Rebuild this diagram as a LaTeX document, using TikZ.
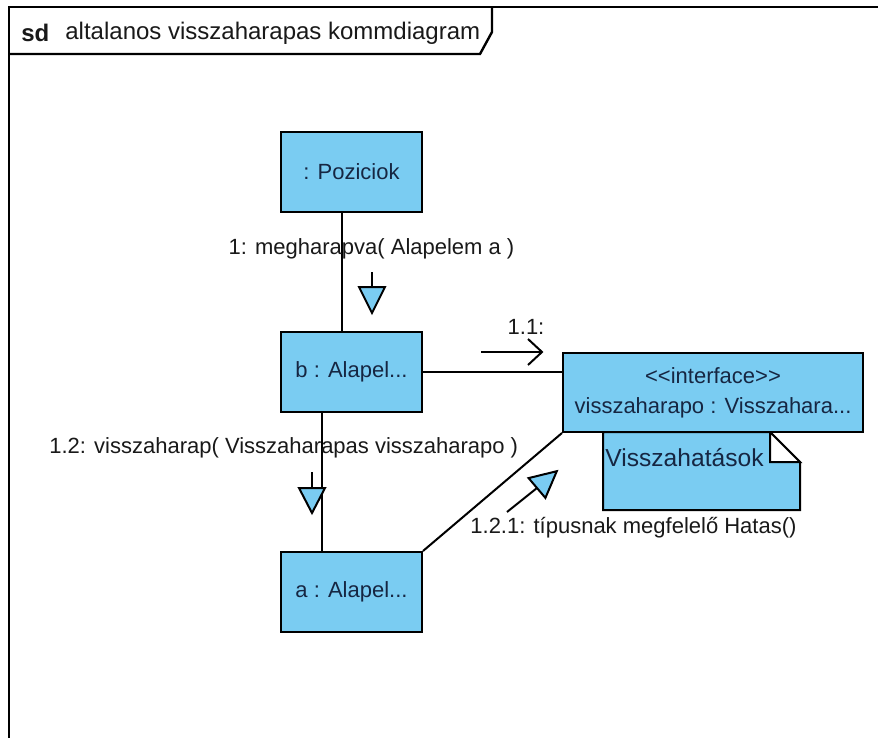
\documentclass[tikz,border=0pt]{standalone}
\usepackage{fontspec}
% plain family, no TeX ligature mapping, so << and >> stay as typed
\newfontfamily\umlfont{Liberation Sans}
\definecolor{umlblue}{RGB}{122,204,242}
\definecolor{boxtext}{RGB}{22,38,66}
\definecolor{labeltext}{RGB}{25,25,25}
\tikzset{
  objbox/.style={draw=black, line width=1pt, fill=umlblue, rectangle,
    minimum width=70.5pt, minimum height=40pt, inner sep=0pt,
    font=\umlfont\fontsize{11}{13}\selectfont, text=boxtext},
  msglabel/.style={inner sep=0pt, font=\umlfont\fontsize{11}{13}\selectfont, text=labeltext},
  link/.style={line width=1pt, draw=black},
  msgtip/.style={line width=1pt, draw=black, fill=umlblue, line join=miter},
  frameline/.style={line width=1.2pt, draw=black}
}
\begin{document}
\begin{tikzpicture}[x=0.5pt,y=-0.5pt]
\useasboundingbox (0,0) rectangle (878,738);
\fill[white] (0,0) rectangle (878,738);

% diagram frame and its name tab
\draw[frameline] (9,738) -- (9,7) -- (878,7);
\draw[frameline] (9,54) -- (480,54) -- (492,32) -- (492,7);
\node[msglabel, anchor=west, font=\umlfont\bfseries\fontsize{12}{14}\selectfont] (sd) at (21,33) {sd};
\node[msglabel, anchor=west, font=\umlfont\fontsize{12}{14}\selectfont] (title) at (65,33) {altalanos visszaharapas kommdiagram};

% note attached below the interface
\draw[line width=1pt, fill=umlblue, line join=miter] (603,432) -- (770,432) -- (800,462) -- (800,510) -- (603,510) -- cycle;
\draw[line width=1pt, fill=white, line join=miter] (770,432) -- (770,462) -- (800,462) -- cycle;
\node[msglabel, anchor=west, text=boxtext, font=\umlfont\fontsize{12.3}{14}\selectfont] (note) at (605,458) {Visszahatások};

% objects
\node[objbox] (poz) at (351.5,172) {: Poziciok};
\node[objbox] (b) at (351.5,372) {b : Alapel...};
\node[objbox] (a) at (351.5,592) {a : Alapel...};
\node[objbox, minimum width=150pt, minimum height=39.5pt, align=center] (iface) at (713,392.5)
  {<<interface>>\\[2pt]visszaharapo : Visszahara...};

% links
\draw[link] ([xshift=-4.75pt]poz.south) -- ([xshift=-4.75pt]b.north);
\draw[link] ([xshift=-14.75pt]b.south) -- ([xshift=-14.75pt]a.north);
\draw[link] (b.east) -- (b.east -| iface.west);
\draw[link] (a.north east) -- (iface.south west);

% message 1
\node[msglabel] (m1) at (371.5,249) {1: megharapva( Alapelem a )};
\draw[link] (372,272) -- (372,287);
\draw[msgtip] (359,287) -- (385,287) -- (372,313) -- cycle;

% message 1.1
\node[msglabel] (m11) at (526,327) {1.1:};
\draw[link] (481,352) -- (542,352);
\draw[link] (528,339) -- (542,352) -- (528,365);

% message 1.2
\node[msglabel, anchor=west] (m12) at (49,448) {1.2: visszaharap( Visszaharapas visszaharapo )};
\draw[link] (312,472) -- (312,488);
\draw[msgtip] (299,488) -- (325,488) -- (312,513) -- cycle;

% message 1.2.1
\node[msglabel, anchor=west] (m121) at (470,528) {1.2.1: típusnak megfelelő Hatas()};
\draw[link] (507,512) -- (537,488);
\draw[msgtip] (528.6,478.1) -- (545.4,497.9) -- (556.8,471.2) -- cycle;
\end{tikzpicture}
\end{document}
